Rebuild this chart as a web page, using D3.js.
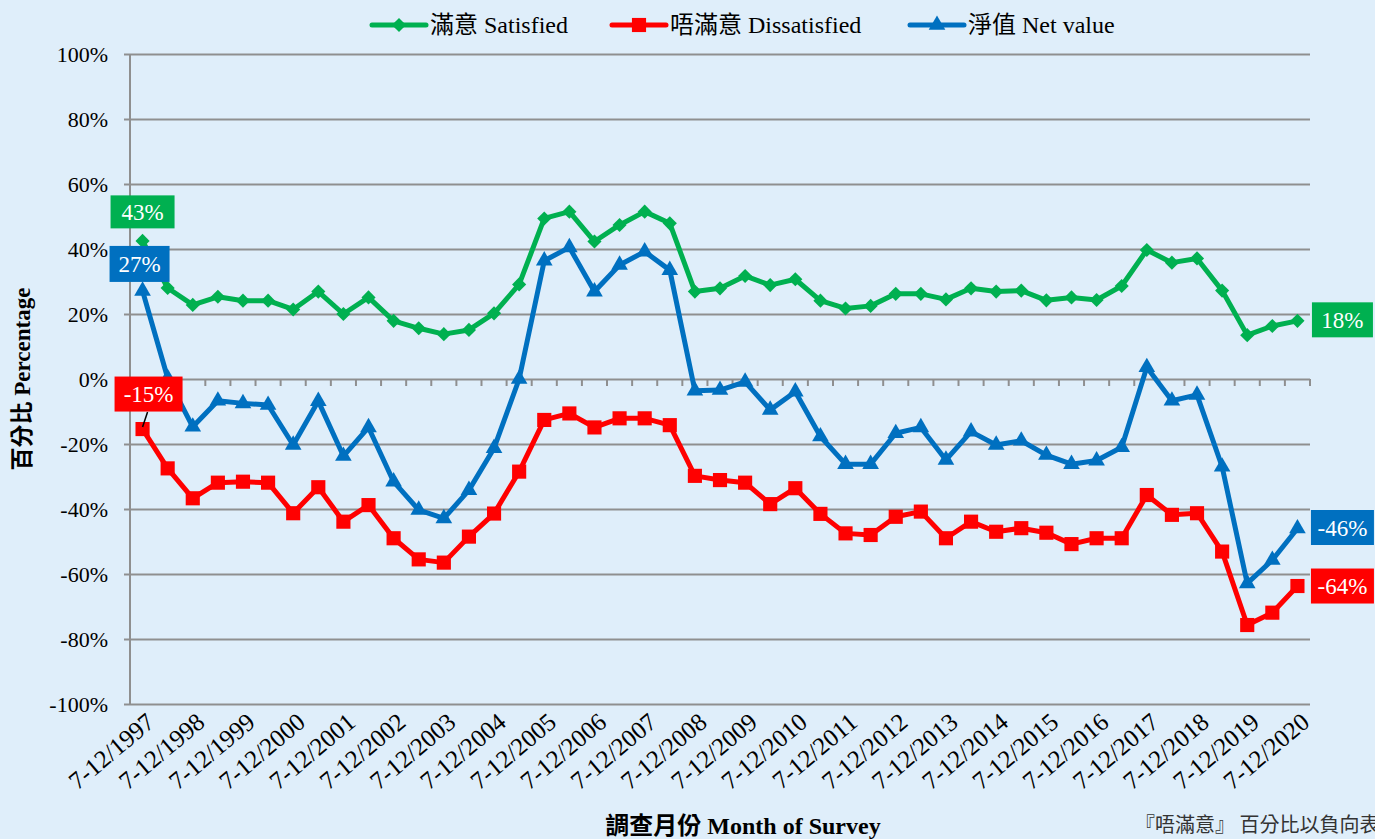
<!DOCTYPE html>
<html>
<head>
<meta charset="utf-8">
<script src="https://cdn.jsdelivr.net/npm/d3@7"></script>
<style>
  body { margin: 0; background: #dfeefa; }
  svg text { font-family: "Liberation Serif", "Noto Sans CJK TC", serif; }
</style>
</head>
<body>
<div id="chart-area"></div>
<script>

// half-year survey periods
var periods = ["7-12/1997","1-6/1998","7-12/1998","1-6/1999","7-12/1999","1-6/2000","7-12/2000","1-6/2001",
    "7-12/2001","1-6/2002","7-12/2002","1-6/2003","7-12/2003","1-6/2004","7-12/2004","1-6/2005","7-12/2005",
    "1-6/2006","7-12/2006","1-6/2007","7-12/2007","1-6/2008","7-12/2008","1-6/2009","7-12/2009","1-6/2010",
    "7-12/2010","1-6/2011","7-12/2011","1-6/2012","7-12/2012","1-6/2013","7-12/2013","1-6/2014","7-12/2014",
    "1-6/2015","7-12/2015","1-6/2016","7-12/2016","1-6/2017","7-12/2017","1-6/2018","7-12/2018","1-6/2019",
    "7-12/2019","1-6/2020","7-12/2020"];

var tickLabels = ["7-12/1997","7-12/1998","7-12/1999","7-12/2000","7-12/2001","7-12/2002","7-12/2003",
    "7-12/2004","7-12/2005","7-12/2006","7-12/2007","7-12/2008","7-12/2009","7-12/2010","7-12/2011",
    "7-12/2012","7-12/2013","7-12/2014","7-12/2015","7-12/2016","7-12/2017","7-12/2018","7-12/2019","7-12/2020"];

var satisfied = [42.5, 28, 22.8, 25.3, 24.1, 24.1, 21.4, 26.9, 20, 25.1, 17.9, 15.6, 13.8, 15.1, 20.2, 29.1,
    49.4, 51.5, 42.3, 47.4, 51.5, 47.9, 26.9, 27.9, 31.7, 28.9, 30.7, 24.1, 21.7, 22.5, 26.2, 26.2, 24.5,
    27.9, 26.9, 27.2, 24.2, 25.1, 24.3, 28.6, 39.7, 35.8, 37.1, 27.2, 13.5, 16.3, 17.9];

var dissatisfied = [-15.4, -27.5, -36.7, -31.9, -31.6, -31.9, -41.3, -33.3, -43.9, -38.8, -49, -55.5, -56.5,
    -48.5, -41.4, -28.5, -12.6, -10.6, -14.9, -12.1, -12.1, -14.2, -29.8, -31.1, -31.9, -38.5, -33.6, -41.5,
    -47.5, -48, -42.4, -40.8, -49, -43.9, -47, -45.9, -47.3, -50.8, -49, -49, -35.7, -41.8, -41.3, -53.1,
    -75.7, -71.9, -63.7];

var netValue = [27.1, 0.3, -14.7, -6.7, -7.5, -8, -20.3, -6.8, -23.7, -14.9, -31.6, -40.3, -42.9, -34.2, -21.3,
    0, 36.4, 40.5, 26.9, 35.1, 39.2, 33.5, -3.6, -3.4, -0.9, -9.5, -3.9, -17.7, -26.2, -26.2, -16.7, -14.9,
    -24.9, -16.2, -20.3, -19, -23.4, -26.2, -25.1, -21, 3.6, -6.7, -4.9, -27, -62.9, -55.7, -46];

var yTicks = [-100, -80, -60, -40, -20, 0, 20, 40, 60, 80, 100];

var seriesNames = ["滿意 Satisfied", "唔滿意 Dissatisfied", "淨值 Net value"];
var seriesColors = ["#00b050", "#ff0000", "#0070c0"];

// SVG drawing area
var margin = {top: 54, right: 65, bottom: 135, left: 130};
var width = 1375 - margin.left - margin.right,
    height = 839 - margin.top - margin.bottom;

var svg0 = d3.select("#chart-area").append("svg")
    .attr("width", 1375)
    .attr("height", 839)
    .style("display", "block");

svg0.append("rect").attr("width", 1375).attr("height", 839).attr("fill", "#dfeefa");

var svg = svg0.append("g")
    .attr("transform", "translate(" + margin.left + "," + margin.top + ")");

var x = d3.scaleBand().domain(periods).range([0, width]);
var y = d3.scaleLinear().domain([-100, 100]).range([height, 0]);

var gridColor = "#8f8f8f";

// gridlines + y labels
svg.append("g")
    .attr("class", "y-axis")
    .call(d3.axisLeft(y).tickValues(yTicks).tickSize(-width).tickPadding(22)
        .tickFormat(function (d) { return d + "%"; }))
    .call(function (g) {
        g.select(".domain").remove();
        g.selectAll(".tick line").attr("stroke", gridColor).attr("stroke-width", 2).attr("x1", -6);
        g.selectAll(".tick text").attr("font-size", 22).attr("fill", "#000")
            .style("font-family", "Liberation Serif");
    });

// vertical axis line
svg.append("line")
    .attr("x1", 0).attr("x2", 0).attr("y1", 0).attr("y2", height)
    .attr("stroke", gridColor).attr("stroke-width", 2);

// category ticks on the 0% line
var bounds = d3.range(periods.length + 1).map(function (i) { return i * x.step(); });
svg.append("g").selectAll("line")
    .data(bounds)
    .enter().append("line")
    .attr("x1", function (d) { return d; })
    .attr("x2", function (d) { return d; })
    .attr("y1", y(0))
    .attr("y2", y(0) + 7)
    .attr("stroke", gridColor)
    .attr("stroke-width", 2);

// x labels
svg.append("g").selectAll("text")
    .data(tickLabels)
    .enter().append("text")
    .attr("transform", function (d) {
        return "translate(" + (x(d) + x.bandwidth() / 2 + 8) + "," + (height + 14) + ") rotate(-40)";
    })
    .attr("text-anchor", "end")
    .attr("font-size", 25)
    .attr("dy", "0.35em")
    .text(function (d) { return d; });

// lines
var series = [satisfied, dissatisfied, netValue];
var line = d3.line()
    .x(function (d, i) { return x(periods[i]) + x.bandwidth() / 2; })
    .y(function (d) { return y(d); });

var symbols = [
    d3.symbol().type(d3.symbolSquare).size(100),
    d3.symbol().type(d3.symbolSquare).size(200),
    d3.symbol().type(d3.symbolTriangle).size(120)
];
var symbolRotate = [45, 0, 0];

series.forEach(function (vals, s) {
    svg.append("path")
        .datum(vals)
        .attr("fill", "none")
        .attr("stroke", seriesColors[s])
        .attr("stroke-width", 5)
        .attr("stroke-linejoin", "round")
        .attr("d", line);

    svg.append("g").selectAll("path")
        .data(vals)
        .enter().append("path")
        .attr("transform", function (d, i) {
            return "translate(" + (x(periods[i]) + x.bandwidth() / 2) + "," + y(d) + ") rotate(" + symbolRotate[s] + ")";
        })
        .attr("fill", seriesColors[s])
        .attr("d", symbols[s]());
});

// value labels on first and last points
function valueLabel(s, idx, dx, dy, w, h) {
    var v = series[s][idx];
    var cx = x(periods[idx]) + x.bandwidth() / 2 + dx;
    var cy = y(v) + dy;
    var g = svg.append("g");
    g.append("rect")
        .attr("x", cx - w / 2).attr("y", cy - h / 2)
        .attr("width", w).attr("height", h)
        .attr("fill", seriesColors[s]);
    g.append("text")
        .attr("x", cx).attr("y", cy)
        .attr("text-anchor", "middle")
        .attr("dy", "0.35em")
        .attr("font-size", 23)
        .attr("fill", "#fff")
        .text(Math.round(v) + "%");
}

var last = periods.length - 1;
// leader line for first dissatisfied label
svg.append("line")
    .attr("x1", x(periods[0]) + x.bandwidth() / 2 + 5)
    .attr("y1", y(dissatisfied[0]) - 17)
    .attr("x2", x(periods[0]) + x.bandwidth() / 2)
    .attr("y2", y(dissatisfied[0]) - 2)
    .attr("stroke", "#000").attr("stroke-width", 1.5);

valueLabel(0, 0, 0, -29, 64, 33);
valueLabel(2, 0, -3, -27, 60, 36);
valueLabel(1, 0, 6, -35, 68, 35);
valueLabel(0, last, 45, -1, 61, 35);
valueLabel(2, last, 45, -1, 63, 35);
valueLabel(1, last, 45, 0, 63, 35);

// legend
var legendX = [372, 612, 910];
var legend = svg0.append("g").attr("transform", "translate(0,25)");
seriesNames.forEach(function (name, s) {
    var lg = legend.append("g").attr("transform", "translate(" + legendX[s] + ",0)");
    lg.append("line")
        .attr("x1", 0).attr("x2", 54)
        .attr("stroke", seriesColors[s]).attr("stroke-width", 5)
        .attr("stroke-linecap", "round");
    lg.append("path")
        .attr("transform", "translate(27,0) rotate(" + symbolRotate[s] + ")")
        .attr("fill", seriesColors[s])
        .attr("d", symbols[s]());
    lg.append("text")
        .attr("x", 58)
        .attr("dy", "0.35em")
        .attr("font-size", 24)
        .text(name);
});

// axis titles
svg0.append("text")
    .attr("transform", "translate(30," + (margin.top + y(0)) + ") rotate(-90)")
    .attr("text-anchor", "middle")
    .attr("font-size", 23)
    .attr("font-weight", "bold")
    .text("百分比 Percentage");

svg0.append("text")
    .attr("x", 743)
    .attr("y", 834)
    .attr("text-anchor", "middle")
    .attr("font-size", 24)
    .attr("font-weight", "bold")
    .text("調查月份 Month of Survey");

svg0.append("text")
    .attr("x", 1135)
    .attr("y", 832)
    .attr("font-size", 20)
    .attr("fill", "#333")
    .style("font-family", "Noto Sans CJK TC")
    .text("『唔滿意』 百分比以負向表示");

</script>
</body>
</html>
